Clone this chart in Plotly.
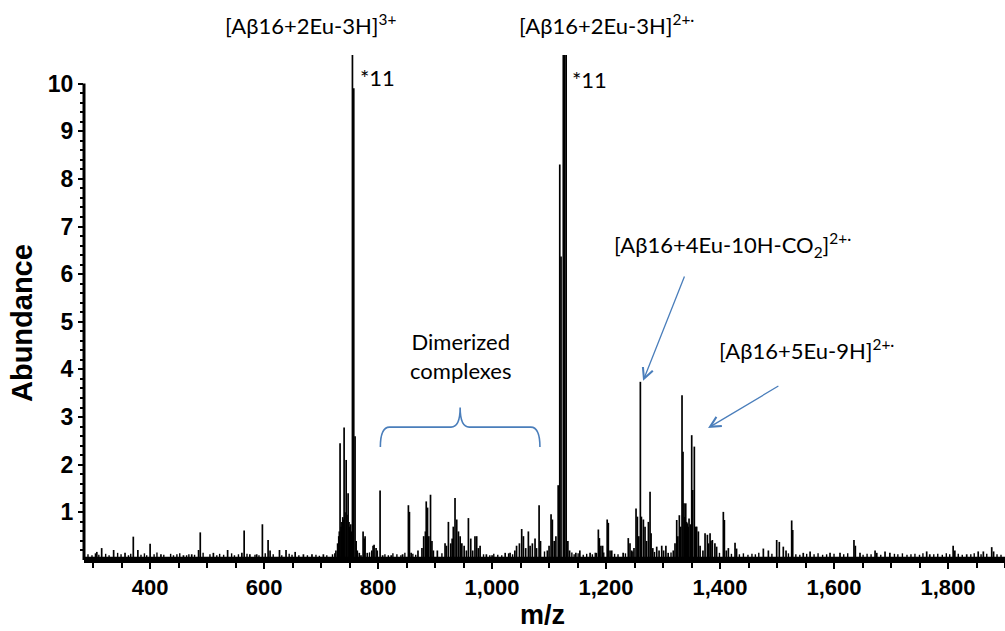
import plotly.graph_objects as go

# ---- spectrum data (m/z, abundance) ----
PEAK_MZ = [
    306.5, 315, 336, 356, 370.5, 378.5, 400, 419, 458.5, 473,
    485, 488, 511, 536, 561, 565, 575, 587, 597, 607,
    610.5, 627, 638.5, 654.5, 669, 684, 704, 726, 729, 731,
    732, 733.3, 735, 736.5, 738, 739.3, 740.4, 742, 744, 745.5,
    747.4, 749, 750.5, 752, 753.5, 755, 757.3, 759.6, 761.5, 763.5,
    767, 770, 773.7, 775.5, 777.2, 781, 789, 791.2, 793, 796.5,
    798.5, 803.5, 808, 823, 843, 853.2, 855, 858, 870, 877,
    880, 883, 884.5, 886.8, 889, 892, 894.5, 897, 904, 917.5,
    920, 923.4, 927.5, 930, 932, 935, 938, 941, 944, 947,
    951, 955, 958.5, 962.6, 966, 970, 973, 976, 979, 990,
    1000, 1023, 1031.6, 1040, 1043, 1048, 1052, 1055, 1059, 1063.7,
    1066.7, 1070.7, 1075.4, 1078, 1082.5, 1085, 1097, 1100, 1103.5, 1105.8,
    1109, 1112, 1116, 1118.8, 1121, 1125, 1127.5, 1130, 1133, 1136,
    1147, 1154, 1172, 1183, 1186.5, 1188.3, 1191, 1194, 1202, 1204,
    1207, 1210, 1230, 1239, 1242, 1245, 1249, 1252.6, 1255, 1257.5,
    1260.2, 1262, 1265.5, 1268.4, 1271, 1274.3, 1277.2, 1279, 1282, 1288.9,
    1293, 1297.7, 1301, 1305, 1309, 1318, 1321, 1324, 1326, 1328.6,
    1331, 1333.3, 1335, 1336.8, 1338.3, 1339.8, 1341.3, 1342.7, 1344, 1345.6,
    1348, 1350.3, 1352, 1354.9, 1357.3, 1359, 1362, 1365, 1370, 1373.7,
    1377.8, 1380, 1382.5, 1384, 1386.5, 1391, 1394, 1405.8, 1407.6, 1411,
    1414.6, 1426.3, 1429, 1476, 1484.8, 1499.4, 1504, 1511, 1515.8, 1525.7,
    1527.5, 1546, 1558, 1593, 1610.5, 1635, 1637.4, 1645.6, 1672, 1675,
    1689.5, 1698, 1762.6, 1768, 1809, 1812, 1832.8, 1853, 1862, 1876.7,
    1880,
]
PEAK_H = [
    0.17, 0.25, 0.21, 0.15, 0.49, 0.21, 0.34, 0.12, 0.10, 0.12,
    0.21, 0.58, 0.15, 0.21, 0.15, 0.62, 0.12, 0.12, 0.75, 0.42,
    0.20, 0.21, 0.21, 0.17, 0.12, 0.12, 0.12, 0.20, 0.35, 0.50,
    0.60, 2.45, 0.70, 0.80, 0.90, 0.85, 2.78, 1.00, 2.10, 0.95,
    1.40, 0.80, 0.70, 0.75, 0.60, 11.0, 9.90, 2.60, 0.40, 0.20,
    0.15, 0.10, 0.60, 0.45, 0.50, 0.15, 0.20, 0.30, 0.32, 0.25,
    0.20, 1.46, 0.10, 0.10, 0.12, 1.15, 1.01, 0.15, 0.20, 0.25,
    0.50, 0.60, 1.23, 1.10, 0.50, 1.37, 0.40, 0.20, 0.20, 0.35,
    0.30, 0.80, 0.35, 0.45, 0.70, 1.30, 0.85, 0.60, 0.50, 0.35,
    0.30, 0.20, 0.88, 0.45, 0.20, 0.50, 0.50, 0.25, 0.30, 0.12,
    0.10, 0.15, 0.15, 0.20, 0.30, 0.35, 0.65, 0.50, 0.25, 0.60,
    0.30, 0.35, 0.45, 0.25, 1.15, 0.40, 0.20, 0.30, 0.96, 0.85,
    0.40, 0.50, 1.57, 8.30, 6.37, 11.0, 11.0, 11.0, 0.40, 0.20,
    0.15, 0.20, 0.15, 0.15, 0.64, 0.46, 0.30, 0.30, 0.85, 0.78,
    0.20, 0.20, 0.15, 0.46, 0.35, 0.20, 0.25, 1.08, 0.91, 0.50,
    3.74, 0.91, 0.85, 0.70, 0.40, 0.80, 1.43, 0.56, 0.25, 0.28,
    0.20, 0.30, 0.20, 0.30, 0.15, 0.20, 0.35, 0.84, 0.50, 0.94,
    0.70, 3.46, 2.27, 1.19, 0.90, 1.19, 0.80, 0.77, 0.70, 0.87,
    0.75, 2.62, 1.47, 2.38, 0.70, 0.70, 0.60, 0.30, 0.20, 0.56,
    0.53, 0.35, 0.56, 0.40, 0.42, 0.35, 0.28, 1.01, 0.84, 0.20,
    0.25, 0.36, 0.24, 0.24, 0.20, 0.42, 0.38, 0.28, 0.20, 0.83,
    0.63, 0.15, 0.18, 0.15, 0.15, 0.42, 0.30, 0.15, 0.20, 0.15,
    0.18, 0.15, 0.18, 0.12, 0.30, 0.20, 0.12, 0.18, 0.18, 0.27,
    0.18,
]

# low-level baseline noise
NOISE_MZ = [
    291, 298, 304, 310, 322, 328, 343, 349, 362, 366,
    384, 390, 394, 407, 412, 424, 436, 441, 447, 452,
    464, 468, 478, 493, 505, 517, 522, 529, 543, 548,
    555, 570, 584, 591, 602, 616, 631, 644, 649, 661,
    676, 691, 697, 710, 720, 724, 785, 812, 818, 826,
    833, 840, 847, 861, 866, 912, 985, 996, 1003, 1010,
    1017, 1029, 1036, 1092, 1140, 1144, 1151, 1160, 1166, 1176,
    1181, 1196, 1215, 1221, 1234, 1247, 1285, 1314, 1399, 1420,
    1434, 1441, 1449, 1456, 1462, 1468, 1491, 1520, 1533, 1540,
    1552, 1565, 1572, 1580, 1587, 1600, 1617, 1624, 1651, 1658,
    1665, 1682, 1706, 1712, 1720, 1728, 1735, 1742, 1750, 1756,
    1775, 1782, 1790, 1797, 1803, 1818, 1825, 1840, 1846, 1858,
    1868, 1886, 1893,
]
NOISE_H = [
    0.12, 0.10, 0.14, 0.11, 0.13, 0.10, 0.15, 0.12, 0.10, 0.13,
    0.11, 0.14, 0.10, 0.12, 0.16, 0.11, 0.13, 0.10, 0.12, 0.14,
    0.10, 0.12, 0.11, 0.15, 0.12, 0.10, 0.13, 0.11, 0.14, 0.10,
    0.12, 0.13, 0.11, 0.10, 0.14, 0.12, 0.10, 0.13, 0.11, 0.10,
    0.10, 0.11, 0.09, 0.10, 0.12, 0.14, 0.16, 0.12, 0.10, 0.14,
    0.12, 0.10, 0.15, 0.13, 0.11, 0.14, 0.12, 0.10, 0.13, 0.11,
    0.10, 0.14, 0.12, 0.18, 0.16, 0.12, 0.14, 0.11, 0.13, 0.12,
    0.15, 0.16, 0.13, 0.12, 0.14, 0.18, 0.17, 0.16, 0.15, 0.13,
    0.12, 0.14, 0.11, 0.13, 0.12, 0.15, 0.13, 0.14, 0.12, 0.11,
    0.13, 0.12, 0.14, 0.11, 0.12, 0.13, 0.12, 0.14, 0.11, 0.13,
    0.12, 0.11, 0.13, 0.12, 0.14, 0.11, 0.12, 0.13, 0.11, 0.14,
    0.12, 0.13, 0.11, 0.14, 0.12, 0.13, 0.11, 0.12, 0.14, 0.12,
    0.13, 0.12, 0.11,
]
BASELINE_LEVEL = 0.07

X_RANGE = [284, 1900]
Y_RANGE = [0, 10.6]
X_TICKS = [400, 600, 800, 1000, 1200, 1400, 1600, 1800]
Y_TICKS = [1, 2, 3, 4, 5, 6, 7, 8, 9, 10]
Y_MINOR = [i / 5 for i in range(1, 51) if i % 5]

BLUE = "#4a7ebb"
TXT_FONT = dict(family="Lato, Open Sans, sans-serif", size=22, color="black")
X_TICK_FONT = dict(family="Liberation Sans, Arial, sans-serif", size=22, color="black", weight="bold")
Y_TICK_FONT = dict(family="Liberation Sans, Arial, sans-serif", size=23, color="black", weight="bold")


def sticks(mz, h):
    xs, ys = [], []
    for m, v in zip(mz, h):
        xs += [m, m, None]
        ys += [0, v, None]
    return xs, ys


fig = go.Figure()

# continuous noise floor along the axis
fig.add_trace(go.Scatter(
    x=X_RANGE, y=[BASELINE_LEVEL, BASELINE_LEVEL], mode="lines",
    line=dict(width=0, color="black"), fill="tozeroy", fillcolor="black",
    hoverinfo="skip",
))

nx, ny = sticks(NOISE_MZ, NOISE_H)
fig.add_trace(go.Scatter(x=nx, y=ny, mode="lines",
                         line=dict(color="black", width=1.4), hoverinfo="skip"))

px_, py_ = sticks(PEAK_MZ, PEAK_H)
fig.add_trace(go.Scatter(x=px_, y=py_, mode="lines",
                         line=dict(color="black", width=1.7), hoverinfo="skip"))

# y axis line stops at the last major tick
fig.add_shape(type="line", xref="paper", x0=0, x1=0, yref="y", y0=0, y1=10,
              line=dict(color="black", width=3))

# curly brace over the dimer region
BR_L, BR_R, BR_M = 804, 1084, 944
BR_END, BR_BAR, BR_TIP = 2.37, 2.79, 3.2
BR_DX = 16
brace = (f"M {BR_L},{BR_END} Q {BR_L},{BR_BAR} {BR_L + BR_DX},{BR_BAR} "
         f"L {BR_M - BR_DX},{BR_BAR} Q {BR_M},{BR_BAR} {BR_M},{BR_TIP} "
         f"Q {BR_M},{BR_BAR} {BR_M + BR_DX},{BR_BAR} "
         f"L {BR_R - BR_DX},{BR_BAR} Q {BR_R},{BR_BAR} {BR_R},{BR_END}")
fig.add_shape(type="path", xref="x", yref="y", path=brace,
              line=dict(color=BLUE, width=1.6))

TITLE_FONT = dict(family="Liberation Sans, Arial, sans-serif", color="black")

annotations = [
    dict(text="[Aβ16+2Eu-3H]<sup>3+</sup>", x=528, y=1.06, xref="x", yref="paper",
         xanchor="left", yanchor="middle", showarrow=False, font=TXT_FONT),
    dict(text="[Aβ16+2Eu-3H]<sup>2+·</sup>", x=1043, y=1.06, xref="x", yref="paper",
         xanchor="left", yanchor="middle", showarrow=False, font=TXT_FONT),
    dict(text="*11", x=765, y=10.12, xref="x", yref="y",
         xanchor="left", yanchor="middle", showarrow=False, font=TXT_FONT),
    dict(text="*11", x=1137, y=10.08, xref="x", yref="y",
         xanchor="left", yanchor="middle", showarrow=False, font=TXT_FONT),
    dict(text="Dimerized<br>complexes", x=BR_M, y=4.29, xref="x", yref="y",
         xanchor="center", yanchor="middle", showarrow=False, font=TXT_FONT),
    dict(text="[Aβ16+4Eu-10H-CO<sub>2</sub>]<sup>2+·</sup>", x=1210, y=6.61, xref="x", yref="y",
         xanchor="left", yanchor="middle", showarrow=False, font=TXT_FONT),
    dict(text="[Aβ16+5Eu-9H]<sup>2+·</sup>", x=1394, y=4.41, xref="x", yref="y",
         xanchor="left", yanchor="middle", showarrow=False, font=TXT_FONT),
    # arrows pointing at the metal-adduct peaks
    dict(text="", x=1265, y=3.76, ax=1338.6, ay=5.98, xref="x", yref="y",
         axref="x", ayref="y", showarrow=True, arrowhead=5, arrowsize=1.6,
         arrowwidth=1.3, arrowcolor=BLUE, standoff=0),
    dict(text="", x=1379, y=2.77, ax=1505, ay=3.67, xref="x", yref="y",
         axref="x", ayref="y", showarrow=True, arrowhead=5, arrowsize=1.6,
         arrowwidth=1.3, arrowcolor=BLUE, standoff=0),
    # axis titles
    dict(text="<b>m/z</b>", x=0.498, y=-0.108, xref="paper", yref="paper",
         xanchor="center", yanchor="middle", showarrow=False,
         font=dict(TITLE_FONT, size=27)),
    dict(text="<b>Abundance</b>", x=-0.068, y=0.47, xref="paper", yref="paper",
         xanchor="center", yanchor="middle", showarrow=False, textangle=-90,
         font=dict(TITLE_FONT, size=29)),
]

fig.update_layout(
    width=1005, height=631,
    margin=dict(l=84, r=0, t=55, b=71),
    paper_bgcolor="white", plot_bgcolor="white",
    showlegend=False,
    separators=".,",
    annotations=annotations,
    xaxis=dict(
        range=X_RANGE, showgrid=False, zeroline=False,
        showline=True, linecolor="black", linewidth=2.5,
        ticks="outside", ticklen=6, tickwidth=2, tickcolor="black",
        tickvals=X_TICKS, tickformat=",d", tickfont=X_TICK_FONT,
        minor=dict(ticks="outside", dtick=50, tick0=0, ticklen=5,
                   tickwidth=2, tickcolor="black", showgrid=False),
    ),
    yaxis=dict(
        range=Y_RANGE, showgrid=False, zeroline=False, showline=False,
        ticks="outside", ticklen=5, tickwidth=2, tickcolor="black",
        tickvals=Y_TICKS, tickfont=Y_TICK_FONT,
        minor=dict(ticks="outside", tickvals=Y_MINOR, ticklen=3,
                   tickwidth=1.5, tickcolor="black", showgrid=False),
    ),
)

fig.write_html("out.html")
